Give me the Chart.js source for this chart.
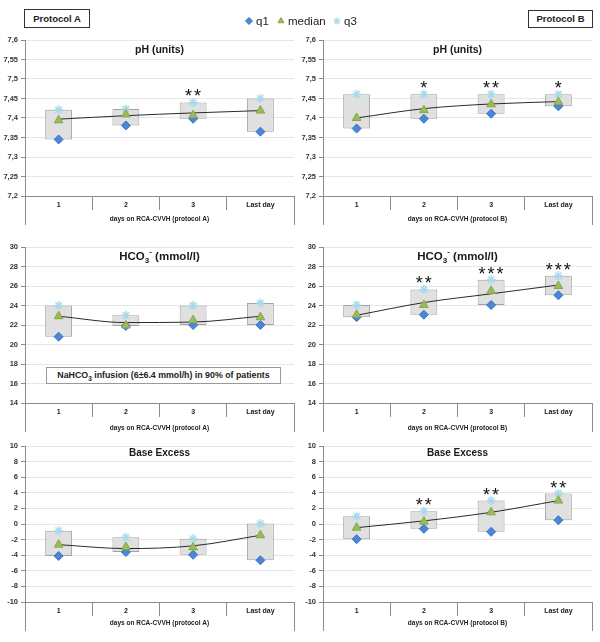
<!DOCTYPE html>
<html>
<head>
<meta charset="utf-8">
<script src="https://cdn.jsdelivr.net/npm/chart.js@4.4.1/dist/chart.umd.min.js"></script>
<style>
  body { margin: 0; background: #fff; width: 600px; height: 642px; position: relative; overflow: hidden; font-family: 'Liberation Sans', Arial, sans-serif; }
  canvas.panel { position: absolute; }
  .protocol { position: absolute; box-sizing: border-box; border: 1px solid #333; font: bold 9.5px 'Liberation Sans', Arial, sans-serif; color: #222; text-align: center; background: #fff; }
  .note { position: absolute; box-sizing: border-box; left: 46px; top: 367px; width: 235px; height: 17px; border: 1px solid #9a9a9a; background: #fff; font: bold 8.8px 'Liberation Sans', Arial, sans-serif; color: #222; text-align: center; line-height: 15px; white-space: nowrap; }
  .note sub { font-size: 6.5px; line-height: 0; }
</style>
</head>
<body>
<div class="protocol" style="left:24px;top:9px;width:66px;height:19px;line-height:17px;">Protocol A</div>
<div class="protocol" style="left:528px;top:10px;width:65px;height:18px;line-height:16px;">Protocol B</div>
<canvas id="legend" width="130" height="20" style="position:absolute;left:240px;top:11px;"></canvas>

<canvas id="phA" class="panel" width="300" height="198"></canvas>
<canvas id="phB" class="panel" width="300" height="198"></canvas>
<canvas id="hco3A" class="panel" width="300" height="198"></canvas>
<canvas id="hco3B" class="panel" width="300" height="198"></canvas>
<canvas id="beA" class="panel" width="300" height="198"></canvas>
<canvas id="beB" class="panel" width="300" height="198"></canvas>

<div class="note">NaHCO<sub>3</sub> infusion (6±6.4 mmol/h) in 90% of patients</div>

<script>
const days = ['1', '2', '3', 'Last day'];

// pH, protocol A / B
const phAQ1 = [7.345, 7.381, 7.398, 7.365];
const phAMedian = [7.394, 7.409, 7.407, 7.419];
const phAQ3 = [7.421, 7.423, 7.44, 7.45];
const phATrend = [7.397, 7.406, 7.413, 7.419];
const phAStars = ['', '', '**', ''];

const phBQ1 = [7.373, 7.398, 7.411, 7.43];
const phBMedian = [7.40, 7.42, 7.435, 7.441];
const phBQ3 = [7.461, 7.461, 7.461, 7.461];
const phBTrend = [7.40, 7.424, 7.436, 7.442];
const phBStars = ['', '*', '**', '*'];

// HCO3-, protocol A / B
const hco3AQ1 = [20.8, 21.9, 22.0, 22.0];
const hco3AMedian = [22.9, 21.95, 22.5, 22.8];
const hco3AQ3 = [24.0, 23.0, 24.0, 24.25];
const hco3ATrend = [22.9, 22.25, 22.3, 22.9];
const hco3AStars = ['', '', '', ''];

const hco3BQ1 = [22.8, 23.05, 24.05, 25.05];
const hco3BMedian = [23.05, 24.05, 25.5, 26.0];
const hco3BQ3 = [24.05, 25.65, 26.65, 27.05];
const hco3BTrend = [23.0, 24.3, 25.2, 26.1];
const hco3BStars = ['', '**', '***', '***'];

// Base excess, protocol A / B
const beAQ1 = [-4.1, -3.6, -3.95, -4.65];
const beAMedian = [-2.65, -2.95, -3.0, -1.45];
const beAQ3 = [-0.85, -1.7, -1.9, 0.05];
const beATrend = [-2.65, -3.15, -2.8, -1.45];
const beAStars = ['', '', '', ''];

const beBQ1 = [-1.95, -0.62, -1.0, 0.48];
const beBMedian = [-0.47, 0.3, 1.5, 3.0];
const beBQ3 = [1.0, 1.65, 3.0, 3.9];
const beBTrend = [-0.47, 0.4, 1.5, 3.0];
const beBStars = ['', '**', '**', '**'];

// y axes: [min, max, step]
const phAxis = [7.2, 7.6, 0.05];
const hco3Axis = [14, 30, 2];
const beAxis = [-10, 10, 2];

const FONT = "'Liberation Sans', Arial, sans-serif";
Chart.defaults.font.family = FONT;
Chart.defaults.animation = false;

const q1Style = { pointStyle: 'rectRot', radius: 4.5, backgroundColor: '#4a87d6', borderColor: '#3b72bd' };
const medStyle = { pointStyle: 'triangle', radius: 5, backgroundColor: '#9bbb59', borderColor: '#86a84a' };
const q3Style = { pointStyle: 'star', radius: 4.5, backgroundColor: '#a8d9ec', borderColor: '#a8d9ec' };

function drawRichTitle(ctx, segs, cx, cy, size) {
  const parts = segs.map((s) => {
    const fs = s.sub || s.sup ? size * 0.7 : size;
    ctx.font = `bold ${fs}px ${FONT}`;
    return { ...s, fs, w: ctx.measureText(s.t).width };
  });
  const total = parts.reduce((acc, p) => acc + p.w, 0);
  let x = cx - total / 2;
  ctx.textAlign = 'left';
  ctx.textBaseline = 'middle';
  ctx.fillStyle = '#1a1a1a';
  parts.forEach((p) => {
    ctx.font = `bold ${p.fs}px ${FONT}`;
    const dy = p.sub ? size * 0.32 : p.sup ? -size * 0.42 : 0;
    ctx.fillText(p.t, x, cy + dy);
    x += p.w;
  });
}

const panelDecor = {
  id: 'panelDecor',
  afterDraw(chart, args, opts) {
    const { ctx, chartArea } = chart;
    const xScale = chart.scales.x;
    const yScale = chart.scales.y;
    ctx.save();

    // outer edges of the category table
    ctx.strokeStyle = '#8c8c8c';
    ctx.lineWidth = 1;
    ctx.beginPath();
    [chartArea.left, chartArea.right].forEach((x) => {
      const px = Math.round(x) + 0.5;
      ctx.moveTo(px, chartArea.bottom);
      ctx.lineTo(px, chartArea.bottom + 29);
    });
    ctx.stroke();

    drawRichTitle(ctx, opts.title, (chartArea.left + chartArea.right) / 2, chartArea.top + opts.titleOffset, opts.titleSize);

    // significance marks above q3
    ctx.fillStyle = '#111';
    ctx.font = `18px ${FONT}`;
    ctx.textAlign = 'center';
    ctx.textBaseline = 'alphabetic';
    opts.stars.forEach((s, i) => {
      if (!s) return;
      const cx = xScale.getPixelForValue(i);
      const baseY = yScale.getPixelForValue(opts.q3[i]);
      for (let k = 0; k < s.length; k++) {
        ctx.fillText('*', cx + (k - (s.length - 1) / 2) * 9, baseY);
      }
    });
    ctx.restore();
  }
};

const columns = { A: { left: 0, padRight: 3 }, B: { left: 298, padRight: 5 } };
const rows = [
  { top: 40, titleOffset: 23 },
  { top: 247, titleOffset: 25 },
  { top: 446, titleOffset: 21 }
];

function makePanel(id, col, row, cfg) {
  const canvas = document.getElementById(id);
  canvas.style.left = `${columns[col].left}px`;
  canvas.style.top = `${rows[row].top - 10}px`;
  const xTitleSize = 6.5;
  const xTitleLine = xTitleSize * 1.2;

  return new Chart(canvas, {
    type: 'bar',
    data: {
      labels: days,
      datasets: [
        { type: 'line', label: 'median', data: cfg.median, showLine: false, pointStyle: medStyle.pointStyle, pointRadius: medStyle.radius, pointBackgroundColor: medStyle.backgroundColor, pointBorderColor: medStyle.borderColor, pointBorderWidth: 1, order: 1 },
        { type: 'line', label: 'q1', data: cfg.q1, showLine: false, pointStyle: q1Style.pointStyle, pointRadius: q1Style.radius, pointBackgroundColor: q1Style.backgroundColor, pointBorderColor: q1Style.borderColor, pointBorderWidth: 1, order: 2 },
        { type: 'line', label: 'q3', data: cfg.q3, showLine: false, pointStyle: q3Style.pointStyle, pointRadius: q3Style.radius, pointBorderColor: q3Style.borderColor, pointBorderWidth: 1.5, order: 3 },
        { type: 'line', label: 'trend', data: cfg.trend, borderColor: '#2a2a2a', borderWidth: 1, pointRadius: 0, cubicInterpolationMode: 'monotone', order: 4 },
        {
          label: 'IQR',
          data: cfg.q1.map((v, i) => [v, cfg.q3[i]]),
          backgroundColor: '#e0e0e0',
          borderColor: '#a3a3a3',
          borderWidth: 1,
          borderSkipped: false,
          barPercentage: 0.4,
          categoryPercentage: 1,
          order: 5
        }
      ]
    },
    options: {
      responsive: false,
      layout: { padding: { top: 10, right: columns[col].padRight, left: 0, bottom: 0 } },
      plugins: {
        legend: { display: false },
        tooltip: { enabled: false },
        panelDecor: { title: cfg.title, titleSize: cfg.titleSize, titleOffset: cfg.titleOffset, stars: cfg.stars, q3: cfg.q3 }
      },
      scales: {
        x: {
          offset: true,
          grid: { offset: true, drawOnChartArea: false, tickLength: 14, color: '#8c8c8c' },
          border: { color: '#8c8c8c' },
          ticks: { font: { size: 7, weight: 'bold' }, color: '#222', padding: -9, maxRotation: 0, autoSkip: false },
          title: {
            display: true,
            text: cfg.xTitle,
            font: { size: xTitleSize, weight: 'bold' },
            color: '#222',
            padding: { top: 0, bottom: 32 - rows[row].titleOffset - xTitleLine / 2 }
          },
          afterFit(scale) { scale.height = 32; }
        },
        y: {
          min: cfg.axis[0],
          max: cfg.axis[1],
          ticks: {
            stepSize: cfg.axis[2],
            font: { size: 7.5, weight: 'bold' },
            color: '#333',
            padding: 3,
            callback: (v) => String(+Number(v).toFixed(2)).replace('.', ',')
          },
          grid: { color: '#e6e6e6', tickLength: 4, tickColor: '#8c8c8c' },
          border: { color: '#8c8c8c' },
          afterFit(scale) { scale.width = 25; }
        }
      }
    },
    plugins: [panelDecor]
  });
}

const phTitle = [{ t: 'pH (units)' }];
const hco3Title = [{ t: 'HCO' }, { t: '3', sub: true }, { t: '-', sup: true }, { t: ' (mmol/l)' }];
const beTitle = [{ t: 'Base Excess' }];
const xTitleA = 'days on RCA-CVVH (protocol A)';
const xTitleB = 'days on RCA-CVVH (protocol B)';

makePanel('phA', 'A', 0, { q1: phAQ1, median: phAMedian, q3: phAQ3, trend: phATrend, stars: phAStars, axis: phAxis, title: phTitle, titleSize: 10.5, titleOffset: 10, xTitle: xTitleA });
makePanel('phB', 'B', 0, { q1: phBQ1, median: phBMedian, q3: phBQ3, trend: phBTrend, stars: phBStars, axis: phAxis, title: phTitle, titleSize: 10.5, titleOffset: 10, xTitle: xTitleB });
makePanel('hco3A', 'A', 1, { q1: hco3AQ1, median: hco3AMedian, q3: hco3AQ3, trend: hco3ATrend, stars: hco3AStars, axis: hco3Axis, title: hco3Title, titleSize: 11.5, titleOffset: 10, xTitle: xTitleA });
makePanel('hco3B', 'B', 1, { q1: hco3BQ1, median: hco3BMedian, q3: hco3BQ3, trend: hco3BTrend, stars: hco3BStars, axis: hco3Axis, title: hco3Title, titleSize: 11.5, titleOffset: 10, xTitle: xTitleB });
makePanel('beA', 'A', 2, { q1: beAQ1, median: beAMedian, q3: beAQ3, trend: beATrend, stars: beAStars, axis: beAxis, title: beTitle, titleSize: 10, titleOffset: 7.5, xTitle: xTitleA });
makePanel('beB', 'B', 2, { q1: beBQ1, median: beBMedian, q3: beBQ3, trend: beBTrend, stars: beBStars, axis: beAxis, title: beTitle, titleSize: 10, titleOffset: 7.5, xTitle: xTitleB });

// shared legend
function drawLegend() {
  const ctx = document.getElementById('legend').getContext('2d');
  const items = [
    { text: 'q1', style: q1Style, x: 9 },
    { text: 'median', style: medStyle, x: 41 },
    { text: 'q3', style: q3Style, x: 97 }
  ];
  ctx.font = `11.5px ${FONT}`;
  ctx.textBaseline = 'middle';
  items.forEach((it) => {
    ctx.save();
    ctx.fillStyle = it.style.backgroundColor;
    ctx.strokeStyle = it.style.borderColor;
    ctx.lineWidth = it.style.pointStyle === 'star' ? 1.2 : 1;
    Chart.helpers.drawPoint(ctx, { pointStyle: it.style.pointStyle, radius: 3.5, rotation: 0, borderWidth: ctx.lineWidth }, it.x, 10);
    ctx.restore();
    ctx.fillStyle = '#222';
    ctx.fillText(it.text, it.x + 7, 10.5);
  });
}
drawLegend();
</script>
</body>
</html>
